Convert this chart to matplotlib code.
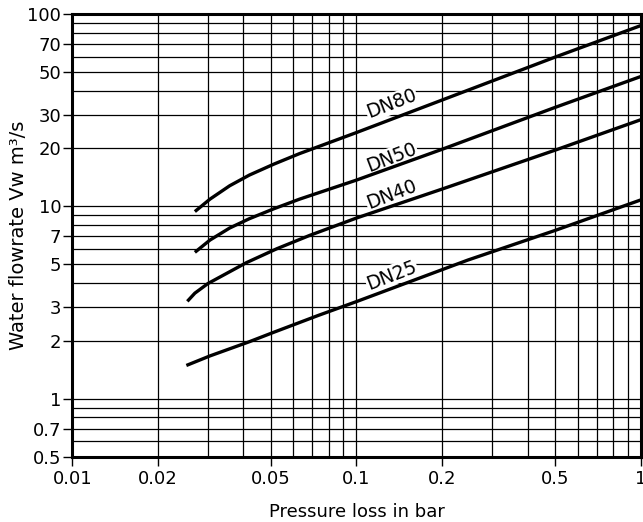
import numpy as np
import matplotlib.pyplot as plt
from matplotlib.ticker import FixedLocator, FixedFormatter, LogLocator, NullFormatter

plt.rcParams['font.family'] = ['DejaVu Sans']

# Datos (perdida de presion en bar, caudal)
x_dn80 = [0.027, 0.0305, 0.0358, 0.042, 0.0513, 0.063, 0.1, 0.2, 0.5, 1.0]
y_dn80 = [9.4, 10.9, 12.8, 14.55, 16.6, 18.8, 24.2, 35.7, 59.7, 87.0]

x_dn50 = [0.027, 0.0305, 0.0358, 0.042, 0.0513, 0.063, 0.1, 0.2, 0.5, 1.0]
y_dn50 = [5.77, 6.68, 7.72, 8.63, 9.73, 10.9, 13.7, 19.8, 32.7, 47.3]

x_dn40 = [0.0254, 0.027, 0.030, 0.041, 0.0524, 0.0685, 0.1, 0.2, 0.5, 1.0]
y_dn40 = [3.21, 3.54, 3.97, 5.1, 6.02, 7.07, 8.7, 12.3, 19.6, 28.2]

x_dn25 = [0.0252, 0.0305, 0.042, 0.0513, 0.0733, 0.1, 0.2465, 0.5, 1.0]
y_dn25 = [1.49, 1.67, 1.98, 2.22, 2.71, 3.2, 5.26, 7.5, 10.8]

x_ticks = [0.01, 0.02, 0.05, 0.1, 0.2, 0.5, 1]
x_labels = ['0.01', '0.02', '0.05', '0.1', '0.2', '0.5', '1']
y_ticks = [0.5, 0.7, 1, 2, 3, 5, 7, 10, 20, 30, 50, 70, 100]
y_labels = ['0.5', '0.7', '1', '2', '3', '5', '7', '10', '20', '30', '50', '70', '100']

####################################################################
# Grafica
fig = plt.figure(figsize=(6.43, 5.22), dpi=100)
ax = fig.add_axes([0.1124, 0.1251, 0.8840, 0.8481])
ax.set_xscale('log')
ax.set_yscale('log')
ax.set_xlim(0.01, 1)
ax.set_ylim(0.5, 100)

lw = 2.4
ax.plot(x_dn80, y_dn80, 'k', lw=lw, zorder=4, solid_capstyle='butt')
ax.plot(x_dn50, y_dn50, 'k', lw=lw, zorder=4, solid_capstyle='butt')
ax.plot(x_dn40, y_dn40, 'k', lw=lw, zorder=4, solid_capstyle='butt')
ax.plot(x_dn25, y_dn25, 'k', lw=lw, zorder=4, solid_capstyle='butt')

# Etiquetas de las curvas
box = dict(facecolor='white', edgecolor='none', pad=0.5)
for name, yy in [('DN80', 34.1), ('DN50', 17.9), ('DN40', 11.5), ('DN25', 4.39)]:
    ax.text(0.133, yy, name, fontsize=13.5, rotation=21, ha='center', va='center',
            bbox=box, zorder=3, rotation_mode='anchor')

# Ejes y rejilla
ax.xaxis.set_major_locator(FixedLocator(x_ticks))
ax.xaxis.set_major_formatter(FixedFormatter(x_labels))
ax.yaxis.set_major_locator(FixedLocator(y_ticks))
ax.yaxis.set_major_formatter(FixedFormatter(y_labels))
ax.xaxis.set_minor_locator(LogLocator(base=10, subs=np.arange(2, 10)))
ax.yaxis.set_minor_locator(LogLocator(base=10, subs=np.arange(2, 10)))
ax.xaxis.set_minor_formatter(NullFormatter())
ax.yaxis.set_minor_formatter(NullFormatter())
ax.grid(True, which='both', color='black', lw=0.9)
ax.set_axisbelow(True)
ax.tick_params(which='major', direction='out', length=6.5, width=1, labelsize=13)
ax.tick_params(axis='y', which='major', pad=1.5)
ax.tick_params(axis='x', which='major', pad=3)
ax.tick_params(which='minor', length=0)
for s in ax.spines.values():
    s.set_linewidth(2.2)

ax.set_xlabel('Pressure loss in bar', fontsize=13, labelpad=11)
ax.set_ylabel('Water flowrate Vw m³/s', fontsize=14, labelpad=-0.5)

fig.savefig('out.png', dpi=100)
